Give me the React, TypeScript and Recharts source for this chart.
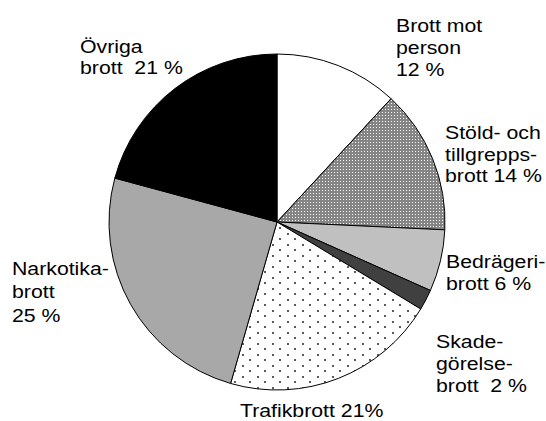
import React from 'react';
import { PieChart, Pie, Cell } from 'recharts';

// andel av brotten, procent
const categories = [
  'Brott mot person',
  'Stöld- och tillgreppsbrott',
  'Bedrägeribrott',
  'Skadegörelsebrott',
  'Trafikbrott',
  'Narkotikabrott',
  'Övriga brott',
];
const shares = [12, 14, 6, 2, 21, 25, 21];
const labelTexts = [
  ['Brott mot', 'person', '12 %'],
  ['Stöld- och', 'tillgrepps-', 'brott 14 %'],
  ['Bedrägeri-', 'brott 6 %'],
  ['Skade-', 'görelse-', 'brott  2 %'],
  ['Trafikbrott 21%'],
  ['Narkotika-', 'brott', '25 %'],
  ['Övriga', 'brott  21 %'],
];

const data = categories.map((name, i) => ({ name, value: shares[i] }));

const FILLS = ['#ffffff', 'url(#dense)', '#c0c0c0', '#404040', 'url(#sparse)', '#a8a8a8', '#000000'];

// label placement: left x and baseline of each line
const LABEL_POS = [
  { x: 396, ys: [32, 54, 76] },
  { x: 445, ys: [139, 161, 182] },
  { x: 446, ys: [268, 290] },
  { x: 436, ys: [348, 370, 392] },
  { x: 240, ys: [417] },
  { x: 12, ys: [275, 298, 322] },
  { x: 80, ys: [53, 74] },
];

const renderLabel = (props: any) => {
  const pos = LABEL_POS[props.index];
  const lines = labelTexts[props.index];
  if (!pos || !lines) return null;
  return (
    <g key={`lbl-${props.index}`}>
      {lines.map((t, j) => (
        <g key={j} transform={`translate(${pos.x},${pos.ys[j]}) scale(1.15,1)`}>
          <text
            x={0}
            y={0}
            fill="#000"
            fontSize={18.5}
            fontFamily="'Liberation Sans', Arial, sans-serif"
            style={{ whiteSpace: 'pre' }}
          >
            {t}
          </text>
        </g>
      ))}
    </g>
  );
};

const App: React.FC = () => {
  return (
    <div style={{ position: 'absolute', left: 0, top: 0, width: 546, height: 421, background: '#fff' }}>
      <svg width={0} height={0} style={{ position: 'absolute' }}>
        <defs>
          <pattern id="dense" width={3} height={3} patternUnits="userSpaceOnUse">
            <rect width={3} height={3} fill="#858585" />
            <rect x={1} y={1} width={1} height={1} fill="#ffffff" />
          </pattern>
          <pattern id="sparse" width={15} height={11} patternUnits="userSpaceOnUse">
            <rect width={15} height={11} fill="#ffffff" />
            <rect x={2} y={2} width={2} height={2} fill="#5a5a5a" />
            <rect x={9} y={7} width={2} height={2} fill="#5a5a5a" />
          </pattern>
        </defs>
      </svg>
      <PieChart width={546} height={421} margin={{ top: 0, right: 0, bottom: 0, left: 0 }}>
        <Pie
          data={data}
          dataKey="value"
          nameKey="name"
          cx={277}
          cy={222}
          innerRadius={0}
          outerRadius={168}
          startAngle={90}
          endAngle={-270}
          stroke="#000"
          strokeWidth={1}
          label={renderLabel}
          labelLine={false}
          isAnimationActive={false}
        >
          {data.map((entry, index) => (
            <Cell key={`cell-${index}`} fill={FILLS[index]} />
          ))}
        </Pie>
      </PieChart>
    </div>
  );
};

export default App;
